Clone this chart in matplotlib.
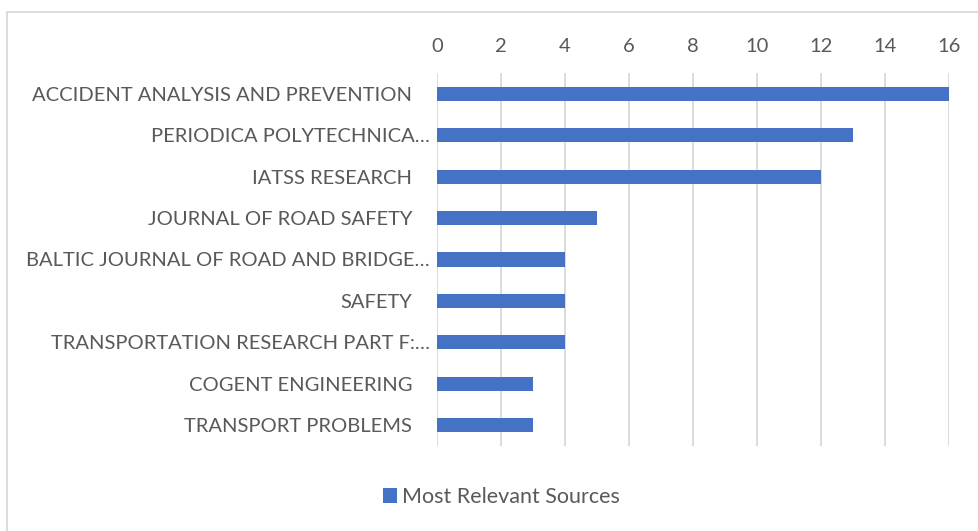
import matplotlib
matplotlib.use("Agg")
import matplotlib.pyplot as plt
from matplotlib.patches import Rectangle

# data
sources = [
    "ACCIDENT ANALYSIS AND PREVENTION",
    "PERIODICA POLYTECHNICA…",
    "IATSS RESEARCH",
    "JOURNAL OF ROAD SAFETY",
    "BALTIC JOURNAL OF ROAD AND BRIDGE…",
    "SAFETY",
    "TRANSPORTATION RESEARCH PART F:…",
    "COGENT ENGINEERING",
    "TRANSPORT PROBLEMS",
]
counts = [16, 13, 12, 5, 4, 4, 4, 3, 3]
xticks = list(range(0, 17, 2))

plt.rcParams["font.family"] = ["Lato", "DejaVu Sans"]
text_col = "#595959"
grid_col = "#d9d9d9"
bar_col = "#4472c4"

fig = plt.figure(figsize=(9.79, 5.31), dpi=100)
ax = fig.add_axes([0.4464, 0.1606, 0.523, 0.7014])

ypos = list(range(len(sources)))
ax.barh(ypos, counts, height=0.34, color=bar_col, label="Most Relevant Sources", zorder=3)
ax.set_ylim(len(sources) - 0.5, -0.5)
ax.set_yticks(ypos)
ax.set_yticklabels([])
ax.set_xlim(0, 16)
ax.set_xticks(xticks)
ax.xaxis.tick_top()
ax.grid(axis="x", color=grid_col, linewidth=1.3, zorder=0)
for s in ax.spines.values():
    s.set_visible(False)
ax.tick_params(axis="both", length=0, colors=text_col, labelsize=14.5)
ax.tick_params(axis="x", pad=13)

# category labels: truncated ones (excel style) sit closer to the axis
for i, name in zip(ypos, sources):
    pad = 5 if name.endswith("…") else 18
    ax.annotate(name, xy=(0, i), xycoords=ax.get_yaxis_transform(),
                xytext=(-pad, 0), textcoords="offset points",
                ha="right", va="center_baseline", fontsize=14.5, color=text_col)

fig.legend(loc="center", bbox_to_anchor=(0.512, 0.064), frameon=False,
           fontsize=15.5, labelcolor=text_col, handlelength=0.65, handleheight=0.65,
           handletextpad=0.25)

# chart border like the office chart frame
fig.patches.append(Rectangle((7 / 979, -0.05), 1.1, 1 - 12 / 531 + 0.05,
                             transform=fig.transFigure, fill=False,
                             edgecolor=grid_col, linewidth=1.3))

fig.savefig("out.png", dpi=100, facecolor="white")
